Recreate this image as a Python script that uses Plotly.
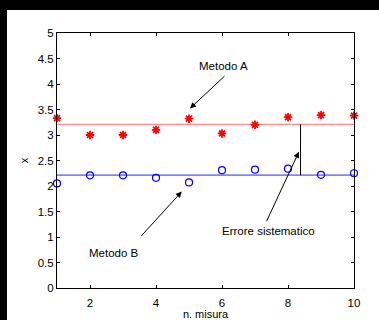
import numpy as np
import plotly.graph_objects as go

misura = [1, 2, 3, 4, 5, 6, 7, 8, 9, 10]
metodo_a = [3.33, 3.00, 3.00, 3.10, 3.32, 3.03, 3.20, 3.35, 3.39, 3.38]
metodo_b = [2.05, 2.21, 2.21, 2.16, 2.07, 2.31, 2.32, 2.34, 2.22, 2.25]
x_ticks = [2, 4, 6, 8, 10]
y_ticks = [0, 0.5, 1, 1.5, 2, 2.5, 3, 3.5, 4, 4.5, 5]
y_ticktext = ["0", "0.5", "1", "1.5", "2", "2.5", "3", "3.5", "4", "4.5", "5"]
err_x = 8.38

mean_a = float(np.mean(metodo_a))
mean_b = float(np.mean(metodo_b))

W, H = 379, 320
L, R, T, B = 57, 25, 33, 32
pw, ph = W - L - R, H - T - B

fig = go.Figure()
fig.add_trace(go.Scatter(x=[misura[0], misura[-1]], y=[mean_a, mean_a], mode="lines",
                         line=dict(color="rgb(255,110,110)", width=1), hoverinfo="skip"))
fig.add_trace(go.Scatter(x=[misura[0], misura[-1]], y=[mean_b, mean_b], mode="lines",
                         line=dict(color="rgb(130,130,255)", width=1.8), hoverinfo="skip"))
fig.add_trace(go.Scatter(x=misura, y=metodo_a, mode="markers",
                         marker=dict(symbol="asterisk-open", size=7, color="rgb(255,0,0)",
                                     line=dict(color="rgb(255,0,0)", width=1.8)),
                         cliponaxis=False))
fig.add_trace(go.Scatter(x=misura, y=metodo_b, mode="markers",
                         marker=dict(symbol="circle-open", size=7, color="rgb(0,0,255)",
                                     line=dict(color="rgb(0,0,255)", width=1.2)),
                         cliponaxis=False))
fig.add_trace(go.Scatter(x=[err_x, err_x], y=[mean_b, mean_a], mode="lines",
                         line=dict(color="black", width=1), hoverinfo="skip"))

font = dict(family="Liberation Sans, Arial, sans-serif", size=11.5, color="black")
tfont = dict(family="Liberation Sans, Arial, sans-serif", size=11, color="black")

def arrow(x, y, ax, ay):
    fig.add_annotation(x=x, y=y, ax=ax, ay=ay, xref="x", yref="y", axref="x", ayref="y",
                       text="", showarrow=True, arrowhead=2, arrowsize=1.2,
                       arrowwidth=1, arrowcolor="black")

arrow(5.03, 3.52, 6.12, 4.18)
arrow(4.78, 1.89, 3.51, 0.99)
arrow(8.33, 2.67, 7.33, 1.28)

fig.add_annotation(x=6.05, y=4.35, xref="x", yref="y", text="Metodo A", showarrow=False, font=font)
fig.add_annotation(x=2.72, y=0.69, xref="x", yref="y", text="Metodo B", showarrow=False, font=font)
fig.add_annotation(x=7.42, y=1.12, xref="x", yref="y", text="Errore sistematico", showarrow=False, font=font)

# black frame strips (top and left) on a white figure
fig.add_shape(type="rect", xref="paper", yref="paper", layer="below",
              x0=(-5 - L) / pw, x1=(W + 5 - L) / pw,
              y0=(T + ph - 10) / ph, y1=(T + ph + 5) / ph,
              fillcolor="black", line=dict(width=0))
fig.add_shape(type="rect", xref="paper", yref="paper", layer="below",
              x0=(-5 - L) / pw, x1=(7 - L) / pw,
              y0=(T + ph - (H + 5)) / ph, y1=(T + ph + 5) / ph,
              fillcolor="black", line=dict(width=0))

axis_common = dict(showgrid=False, zeroline=False, showline=True, linecolor="black",
                   linewidth=1, mirror="ticks", ticks="inside", ticklen=3,
                   tickcolor="black", tickfont=font, automargin=False)

fig.update_layout(
    width=W, height=H, margin=dict(l=L, r=R, t=T, b=B),
    paper_bgcolor="white", plot_bgcolor="white", showlegend=False,
    xaxis=dict(range=[1, 10], tickvals=x_ticks, ticklabelstandoff=4,
               title=dict(text="n. misura", font=tfont, standoff=4), **axis_common),
    yaxis=dict(range=[0, 5], tickvals=y_ticks, ticktext=y_ticktext,
               title=dict(text="x", font=tfont, standoff=6), **axis_common),
)

fig.write_html("out.html", config={"displayModeBar": False},
               post_script="document.body.style.margin='0px';document.body.style.overflow='hidden';"
                           "document.documentElement.style.overflow='hidden';"
                           "document.body.style.background='white';"
                           "document.documentElement.style.background='white';")
